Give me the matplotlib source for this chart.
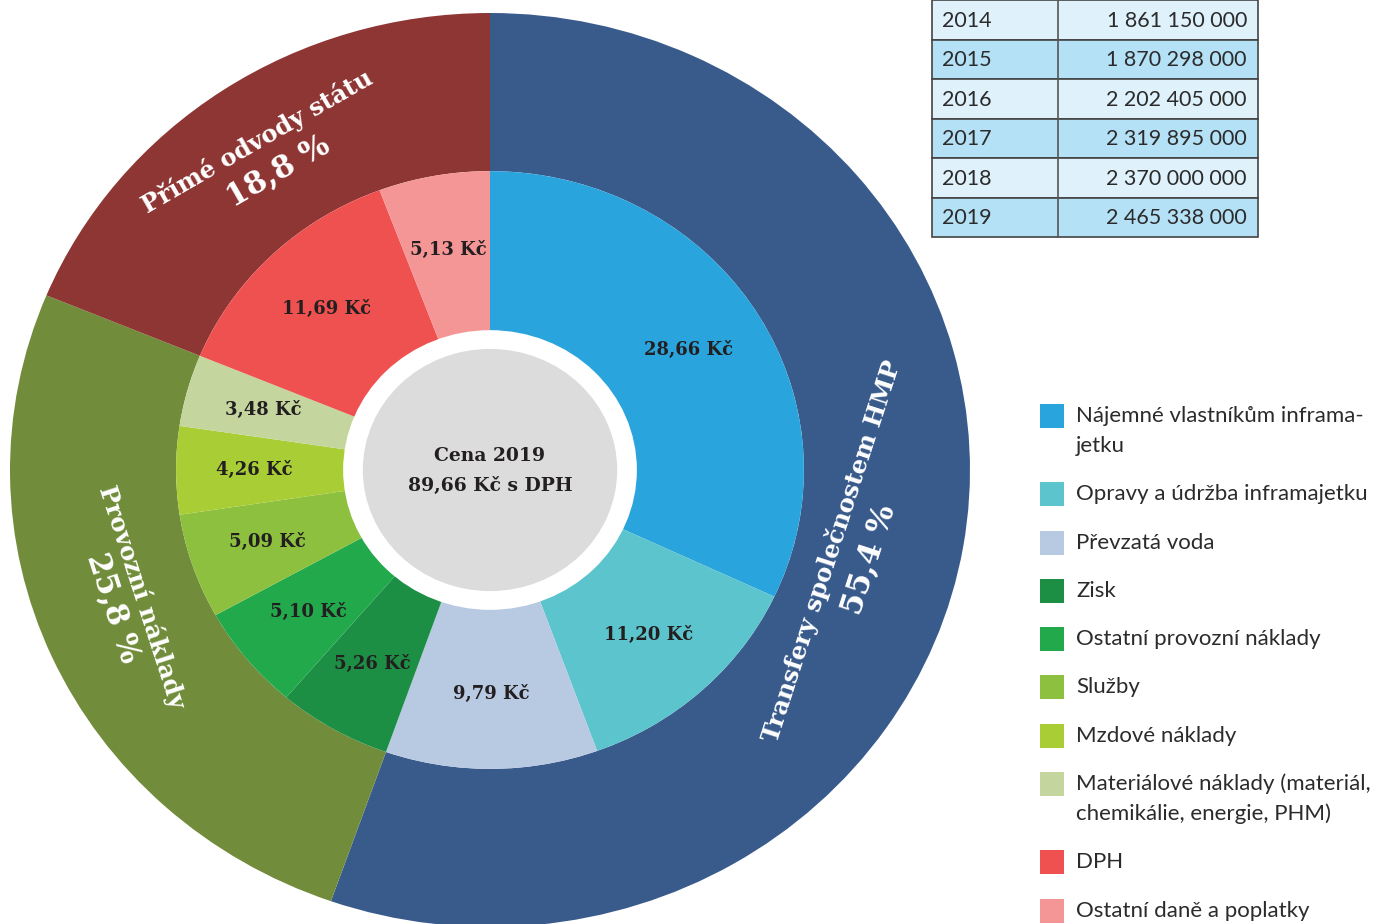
import numpy as np
import matplotlib
matplotlib.use('Agg')
import matplotlib.pyplot as plt
from matplotlib.patches import Circle, Rectangle

# vnější kruh - hlavní skupiny
outer_labels = ['Transfery společnostem HMP', 'Provozní náklady', 'Přímé odvody státu']
outer_pct = ['55,4 %', '25,8 %', '18,8 %']
outer_colors = ['#395b8c', '#718d3b', '#8e3634']

# vnitřní kruh - složky ceny (Kč)
inner_values = [28.66, 11.20, 9.79, 5.26, 5.10, 5.09, 4.26, 3.48, 11.69, 5.13]
inner_groups = [0, 0, 0, 1, 1, 1, 1, 1, 2, 2]
inner_colors = ['#29a4dd', '#5cc4cc', '#b8c9e2', '#1d8f45', '#22a94c', '#8cc03e',
                '#a9cd35', '#c4d59e', '#ef5150', '#f49696']
legend_labels = ['Nájemné vlastníkům inframa-\njetku', 'Opravy a údržba inframajetku',
                 'Převzatá voda', 'Zisk', 'Ostatní provozní náklady', 'Služby',
                 'Mzdové náklady', 'Materiálové náklady (materiál,\nchemikálie, energie, PHM)',
                 'DPH', 'Ostatní daně a poplatky']

# tabulka
years = ['2014', '2015', '2016', '2017', '2018', '2019']
amounts = ['1 861 150 000', '1 870 298 000', '2 202 405 000',
           '2 319 895 000', '2 370 000 000', '2 465 338 000']

outer_values = [sum(v for v, g in zip(inner_values, inner_groups) if g == k) for k in range(3)]

W, H = 1389, 924
fig = plt.figure(figsize=(W / 100, H / 100), dpi=100)

# osa pro kolac - mirne roztazena vodorovne jako v originale
cx, cy = 490, H - 470
rx, ry = 480, 457
lim = 1.3
ax = fig.add_axes([(cx - lim * rx) / W, (cy - lim * ry) / H, 2 * lim * rx / W, 2 * lim * ry / H])

serif = 'DejaVu Serif'
dark = '#231f20'
wo, _ = ax.pie(outer_values, radius=1.0, colors=outer_colors, startangle=90, counterclock=False,
               wedgeprops=dict(width=1 - 0.654, linewidth=0))
wi, _ = ax.pie(inner_values, radius=0.654, colors=inner_colors, startangle=90, counterclock=False,
               wedgeprops=dict(width=0.654 - 0.30, linewidth=0))
ax.add_patch(Circle((0, 0), 0.306, color='white', lw=0, zorder=3))
ax.add_patch(Circle((0, 0), 0.265, color='#dcdcdc', lw=0, zorder=4))
ax.set_aspect('auto')
ax.set_xlim(-lim, lim)
ax.set_ylim(-lim, lim)
ax.axis('off')

for w, v in zip(wi, inner_values):
    a = np.deg2rad((w.theta1 + w.theta2) / 2)
    ax.text(0.49 * np.cos(a), 0.49 * np.sin(a), ('%.2f Kč' % v).replace('.', ','),
            ha='center', va='center', fontsize=13, fontweight='heavy', family=serif,
            color=dark, zorder=5)

ax.text(0, 0.03, 'Cena 2019', ha='center', va='center', fontsize=13.5, fontweight='heavy',
        family=serif, color=dark, zorder=5)
ax.text(0, -0.035, '89,66 Kč s DPH', ha='center', va='center', fontsize=13.5, fontweight='heavy',
        family=serif, color=dark, zorder=5)

# popisky vnejsiho kruhu (uhel, polomer 1. radku, polomer 2. radku, rotace)
outer_pos = [(-14, 0.734, 0.815, 72), (201, 0.776, 0.843, -72), (124, 0.866, 0.787, 30)]
for (ang, r1, r2, rot), lab, pct in zip(outer_pos, outer_labels, outer_pct):
    a = np.deg2rad(ang)
    ax.text(r1 * np.cos(a), r1 * np.sin(a), lab, ha='center', va='center', rotation=rot,
            rotation_mode='anchor', fontsize=17.5, fontweight='heavy', family=serif, color='white')
    ax.text(r2 * np.cos(a), r2 * np.sin(a), pct, ha='center', va='center', rotation=rot,
            rotation_mode='anchor', fontsize=22, fontweight='heavy', family=serif, color='white')

# prekryvna osa v pixelech pro tabulku a legendu
ov = fig.add_axes([0, 0, 1, 1])
ov.set_xlim(0, W)
ov.set_ylim(H, 0)
ov.axis('off')
ov.patch.set_alpha(0)

sans = 'Lato'
txt = '#2b2b2b'
row_h = 39.5
top = 237 - row_h * len(years)
for i, (yr, am) in enumerate(zip(years, amounts)):
    y0 = top + i * row_h
    fc = '#dff1fb' if i % 2 == 0 else '#b5e1f6'
    ov.add_patch(Rectangle((932, y0), 1258 - 932, row_h, facecolor=fc, edgecolor='#444444', lw=1.2))
    ov.plot([1057.5, 1057.5], [y0, y0 + row_h], color='#555555', lw=1.2)
    ov.text(942, y0 + row_h / 2 + 1, yr, ha='left', va='center', fontsize=15.5, family=sans,
            color=txt)
    ov.text(1247, y0 + row_h / 2 + 1, am, ha='right', va='center', fontsize=15.5, family=sans,
            color=txt)

y = 416
for k, lab in enumerate(legend_labels):
    lines = lab.split('\n')
    ov.add_patch(Rectangle((1040, y - 12), 24, 24, facecolor=inner_colors[k], lw=0))
    for j, ln in enumerate(lines):
        ov.text(1076, y + 30 * j, ln, ha='left', va='center', fontsize=16, family=sans,
                color=txt)
    y += 48.3 + 30 * (len(lines) - 1)

fig.savefig('out.png', dpi=100)
